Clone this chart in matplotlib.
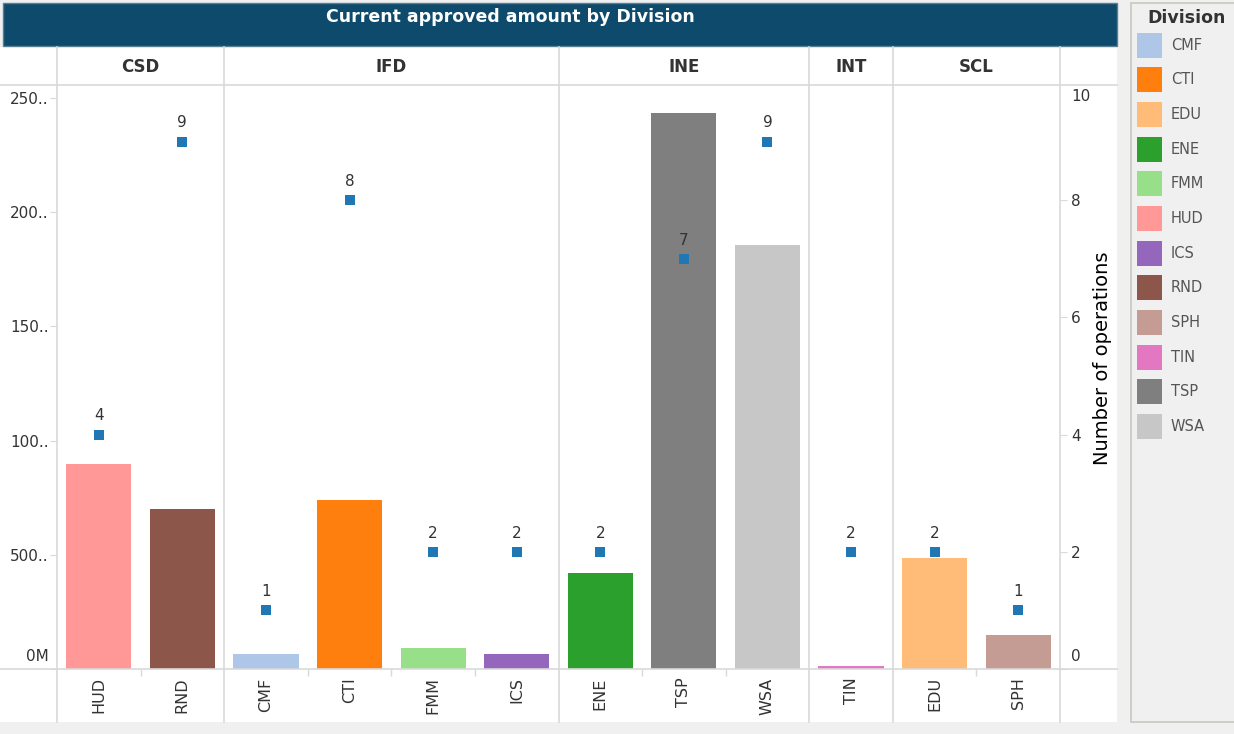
"""Current approved amount by Division - Tableau style dual axis bar chart."""

import matplotlib

matplotlib.use("Agg")

import matplotlib.pyplot as plt
from matplotlib.lines import Line2D
from matplotlib.patches import Rectangle
from matplotlib.transforms import ScaledTranslation

plt.rcParams["font.family"] = ["DejaVu Sans"]

# --- data -------------------------------------------------------------------
divisions = ["CSD", "IFD", "INE", "INT", "SCL"]
division_sizes = [2, 4, 3, 1, 2]
departments = ["HUD", "RND", "CMF", "CTI", "FMM", "ICS", "ENE", "TSP", "WSA", "TIN", "EDU", "SPH"]
amount_musd = [89.6, 70.0, 6.6, 74.0, 9.2, 6.6, 42.0, 243.5, 185.8, 1.3, 48.5, 14.9]
operations = [4, 9, 1, 8, 2, 2, 2, 7, 9, 2, 2, 1]
left_ticks = [0, 50, 100, 150, 200, 250]
left_tick_labels = ["0M", "500..", "100..", "150..", "200..", "250.."]
right_ticks = [0, 2, 4, 6, 8, 10]

legend_names = ["CMF", "CTI", "EDU", "ENE", "FMM", "HUD", "ICS", "RND", "SPH", "TIN", "TSP", "WSA"]
legend_colors = ["#aec7e8", "#ff7f0e", "#ffbb78", "#2ca02c", "#98df8a", "#ff9896",
                 "#9467bd", "#8c564b", "#c49c94", "#e377c2", "#7f7f7f", "#c7c7c7"]
color_of = dict(zip(legend_names, legend_colors))

TEXT = "#333333"
GRID = "#d9d9d9"
W, H = 1234, 734


def fx(px):
    return px / W


def fy(py):
    return 1 - py / H


fig = plt.figure(figsize=(W / 100, H / 100), dpi=100, facecolor="#f0f0f0")


def shift(label, dy_px):
    # move a tick label up (+) or down (-) by some pixels, Tableau clamps edge labels
    label.set_transform(label.get_transform() + ScaledTranslation(0, dy_px / 100, fig.dpi_scale_trans))


# white worksheet area and title bar (behind the axes)
fig.add_artist(Rectangle((0, fy(722)), fx(1117), fy(47) - fy(722), zorder=-10,
                         transform=fig.transFigure, facecolor="white", edgecolor="none"))
fig.add_artist(Rectangle((fx(3), fy(46)), fx(1114), fy(3) - fy(46), zorder=-5,
                         transform=fig.transFigure, facecolor="#0d4a6b", edgecolor="#5b7f92", lw=1))
fig.text(fx(510), fy(17), "Current approved amount by Division", color="white",
         fontsize=12.5, fontweight="bold", ha="center", va="center")

# main axes
ax = fig.add_axes([fx(57), fy(669), fx(1060) - fx(57), fy(83) - fy(669)])
n = len(departments)
xs = list(range(n))
ax.bar(xs, amount_musd, width=0.78, color=[color_of[d] for d in departments], zorder=2)
ax.set_xlim(-0.5, n - 0.5)
ax.set_ylim(0, 256.6)
for s in ax.spines.values():
    s.set_visible(False)

ax.set_yticks(left_ticks)
ax.set_yticklabels(left_tick_labels)
ax.tick_params(axis="y", length=5, color=GRID, labelcolor=TEXT, labelsize=11, pad=1)
shift(ax.yaxis.get_major_ticks()[0].label1, 14)

ax.set_xticks(xs)
ax.set_xticklabels(departments, rotation=90, va="top")
ax.tick_params(axis="x", length=0, labelcolor=TEXT, labelsize=11.5, pad=6)

# small separator ticks between bars inside a pane
inner = []
start = 0
for size in division_sizes:
    inner += [start + k - 0.5 for k in range(1, size)]
    start += size
ax.set_xticks(inner, minor=True)
ax.tick_params(axis="x", which="minor", length=5, color=GRID, width=1)

# count axis
ax2 = ax.twinx()
ax2.set_ylim(0, 10)
for s in ax2.spines.values():
    s.set_visible(False)
ax2.set_yticks(right_ticks)
ax2.tick_params(axis="y", length=5, color=GRID, labelcolor=TEXT, labelsize=11, pad=3)
shift(ax2.yaxis.get_major_ticks()[0].label2, 14)
shift(ax2.yaxis.get_major_ticks()[-1].label2, -12)
ax2.yaxis.get_major_ticks()[-1].tick2line.set_visible(False)
ax2.scatter(xs, operations, marker="s", s=50, color="#1f77b4", zorder=3, linewidths=0)
for x, c in zip(xs, operations):
    ax2.annotate(str(c), (x, c), xytext=(0, 8), textcoords="offset points",
                 ha="center", va="bottom", fontsize=11, color=TEXT)

fig.text(fx(1103), fy(358), "Number of operations", rotation=90, ha="center",
         va="center", fontsize=14, color="black")

# pane separators and header row
xt = ax.get_xaxis_transform()
bounds = [-0.5]
for size in division_sizes:
    bounds.append(bounds[-1] + size)
top_ax = (669 - 47) / (669 - 83)
bot_ax = -(722 - 669) / (669 - 83)
for b in bounds:
    ax.add_line(Line2D([b, b], [bot_ax, top_ax], transform=xt, color=GRID, lw=1.2,
                       clip_on=False, zorder=1))
for yy in (85, 669):
    fig.add_artist(Line2D([0, fx(1117)], [fy(yy), fy(yy)], transform=fig.transFigure,
                          color=GRID, lw=1.2))
for i, name in enumerate(divisions):
    cx = (bounds[i] + bounds[i + 1]) / 2
    ax.text(cx, (669 - 67) / (669 - 83), name, transform=xt, ha="center", va="center",
            fontsize=12, fontweight="bold", color=TEXT)

# legend panel
fig.add_artist(Rectangle((fx(1131), fy(722)), fx(1240) - fx(1131), fy(3) - fy(722),
                         transform=fig.transFigure, facecolor="#f0f0f0", edgecolor="#c8c8c0", lw=1.2))
fig.text(fx(1187), fy(18), "Division", fontsize=12.5, fontweight="bold", color=TEXT,
         ha="center", va="center")
for i, (name, col) in enumerate(zip(legend_names, legend_colors)):
    yc = 45 + i * 34.7
    fig.add_artist(Rectangle((fx(1137), fy(yc + 12.5)), fx(25), fy(0) - fy(25),
                             transform=fig.transFigure, facecolor=col, edgecolor="none"))
    fig.text(fx(1171), fy(yc), name, fontsize=10.5, color="#555555", ha="left", va="center")

fig.savefig("out.png", dpi=100, facecolor=fig.get_facecolor())
